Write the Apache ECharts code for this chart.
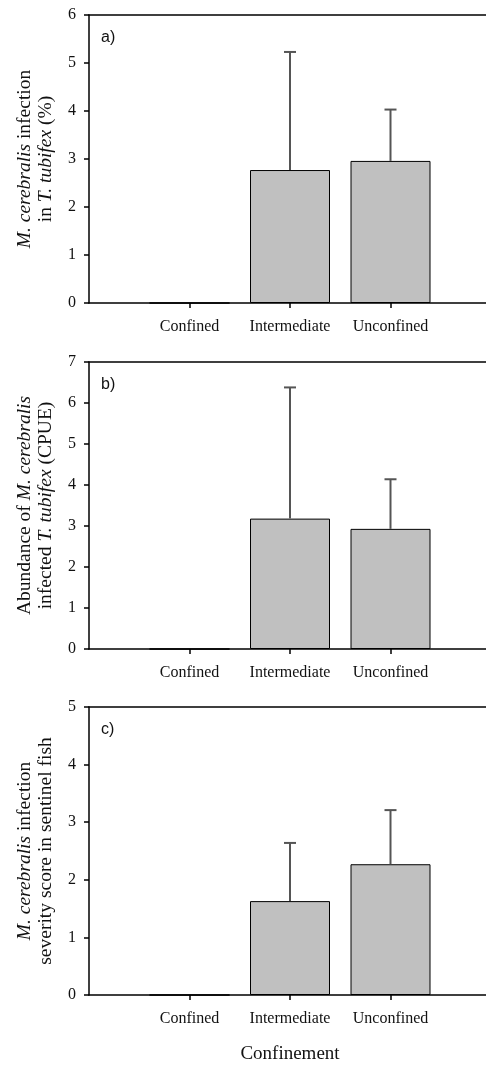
<!DOCTYPE html>
<html>
<head>
<meta charset="utf-8">
<script src="https://cdn.jsdelivr.net/npm/echarts@6/dist/echarts.min.js"></script>
<style>
  html, body { margin: 0; padding: 0; background: #fff; }
  #chart { width: 486px; height: 1066px; }
</style>
</head>
<body>
<div id="chart"></div>
<script>
// Sites grouped by valley confinement
const categories = ['Confined', 'Intermediate', 'Unconfined'];

// a) infection prevalence in T. tubifex (%), mean and SE
const infectionPct = [0, 2.77, 2.96];
const infectionPctSE = [0, 2.46, 1.07];

// b) abundance of infected T. tubifex (CPUE), mean and SE
const abundance = [0, 3.18, 2.93];
const abundanceSE = [0, 3.20, 1.21];

// c) infection severity score in sentinel fish, mean and SE
const severity = [0, 1.63, 2.27];
const severitySE = [0, 1.01, 0.94];

const panelLetters = ['a)', 'b)', 'c)'];
const yMax = [6, 7, 5];
const yTitles = [
  '{i|M. cerebralis} infection\nin {i|T. tubifex} (%)',
  'Abundance of {i|M. cerebralis}\ninfected {i|T. tubifex} (CPUE)',
  '{i|M. cerebralis} infection\nseverity score in sentinel fish'
];
const panelMeans = [infectionPct, abundance, severity];
const panelSE = [infectionPctSE, abundanceSE, severitySE];

const SERIF = "'Liberation Serif', 'Times New Roman', serif";
const SANS = "'Liberation Sans', Arial, sans-serif";
const INK = '#111';

const gridBoxes = [
  { top: 15, height: 288 },
  { top: 362, height: 287 },
  { top: 707, height: 288 }
];

const chart = echarts.init(document.getElementById('chart'), null, { renderer: 'canvas' });

const grid = [], xAxis = [], yAxis = [], series = [], graphic = [];

gridBoxes.forEach((g, p) => {
  // plot frame runs a little past the right edge of the page
  grid.push({ left: 89, width: 402, top: g.top, height: g.height, outerBoundsMode: 'none', containLabel: false });

  // bottom axis: groups sit at positions 1..3
  xAxis.push({
    type: 'value', gridIndex: p, min: 0, max: 4, interval: 1,
    position: 'bottom',
    axisLine: { show: true, onZero: false, lineStyle: { color: '#000', width: 1.5 } },
    axisTick: { show: true, length: 5, inside: false, customValues: [1, 2, 3], lineStyle: { color: '#000', width: 1.5 } },
    axisLabel: {
      show: true, customValues: [1, 2, 3], margin: 16,
      fontFamily: SERIF, fontSize: 16, color: INK,
      formatter: v => categories[v - 1] || ''
    },
    splitLine: { show: false },
    name: p === 2 ? 'Confinement' : '',
    nameLocation: 'middle', nameGap: 50,
    nameTextStyle: { fontFamily: SERIF, fontSize: 19, color: INK }
  });
  // top frame line
  xAxis.push({
    type: 'value', gridIndex: p, min: 0, max: 4, position: 'top',
    axisLine: { show: true, onZero: false, lineStyle: { color: '#000', width: 1.5 } },
    axisTick: { show: false }, axisLabel: { show: false }, splitLine: { show: false }
  });

  yAxis.push({
    type: 'value', gridIndex: p, min: 0, max: yMax[p], interval: 1,
    axisLine: { show: true, onZero: false, lineStyle: { color: '#000', width: 1.5 } },
    axisTick: { show: true, length: 5, inside: false, lineStyle: { color: '#000', width: 1.5 } },
    axisLabel: { margin: 13, fontFamily: SERIF, fontSize: 16, color: INK },
    splitLine: { show: false },
    name: yTitles[p], nameLocation: 'middle', nameRotate: 90, nameGap: 33,
    nameTextStyle: {
      fontFamily: SERIF, fontSize: 19.5, color: INK, lineHeight: 21,
      rich: { i: { fontFamily: SERIF, fontSize: 19.5, fontStyle: 'italic', color: INK, lineHeight: 21 } }
    }
  });

  const means = panelMeans[p];
  const se = panelSE[p];

  series.push({
    type: 'bar', xAxisIndex: p * 2, yAxisIndex: p,
    barWidth: 80,
    itemStyle: { color: '#c0c0c0', borderColor: '#000', borderWidth: 1 },
    data: means.map((v, i) => [i + 1, v]),
    silent: true, z: 2
  });

  // standard-error whiskers above each bar
  series.push({
    type: 'custom', xAxisIndex: p * 2, yAxisIndex: p,
    data: means.map((v, i) => [i + 1, v, se[i]]),
    z: 3, silent: true, clip: false,
    renderItem: (params, api) => {
      const x = api.value(0), v = api.value(1), e = api.value(2);
      if (!(e > 0)) return null;
      const base = api.coord([x, v]);
      const top = api.coord([x, v + e]);
      const style = { stroke: '#555', lineWidth: 2 };
      return {
        type: 'group',
        children: [
          { type: 'line', shape: { x1: base[0], y1: base[1], x2: top[0], y2: top[1] }, style },
          { type: 'line', shape: { x1: top[0] - 6, y1: top[1], x2: top[0] + 6, y2: top[1] }, style }
        ]
      };
    }
  });

  graphic.push({
    type: 'text', left: 101, top: g.top + 15,
    style: { text: panelLetters[p], font: '16px ' + SANS, fill: INK }
  });
});

chart.setOption({
  animation: false,
  backgroundColor: '#fff',
  grid, xAxis, yAxis, series, graphic
});
</script>
</body>
</html>
